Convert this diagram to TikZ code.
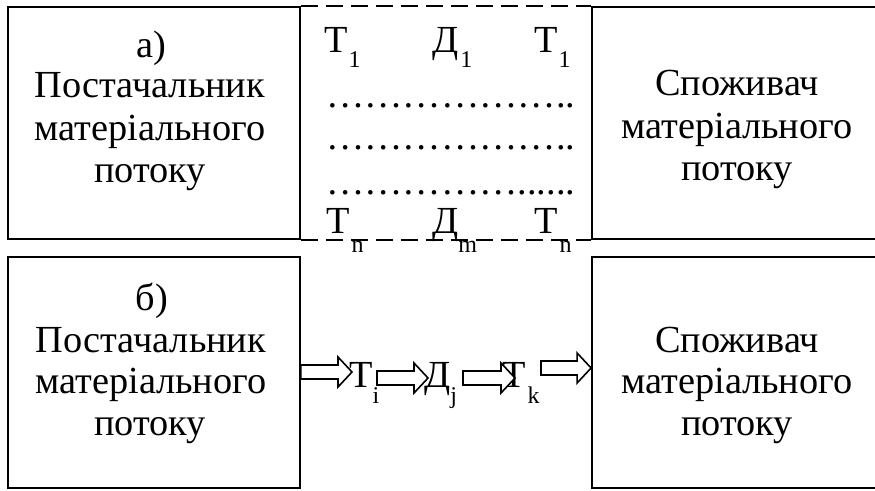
\documentclass[tikz,border=0pt]{standalone}
\usepackage{fontspec}
\setmainfont{Liberation Serif}
\usetikzlibrary{calc}

% big text and subscript sizes
\newcommand\bigtxt{\fontsize{38.3}{43}\selectfont}
\newcommand\subtxt{\fontsize{24}{24}\selectfont}
% letter with a lowered index: #1 letter, #2 kern, #3 drop, #4 index
\newcommand\idx[4]{#1\kern#2\raisebox{-#3}{\subtxt #4}}

\tikzset{
  box/.style={draw, line width=1.8pt, inner sep=0pt, minimum width=292pt, minimum height=232pt},
  line/.style={inner sep=0pt, anchor=base, font=\bigtxt},
  lbl/.style={inner sep=0pt, anchor=base west, font=\bigtxt},
  border/.style={line width=1.8pt, dash pattern=on 17pt off 8pt},
  blockar/.style={draw, fill=white, line width=1.6pt, line join=miter},
}

% outlined block arrow from #1 to #2 (tip), drawn at the height of #2
\newcommand\blockarrow[2]{%
  \draw[blockar] let \p1=(#1), \p2=(#2) in
    (\x1,{\y2+7pt}) -- ({\x2-14pt},{\y2+7pt}) -- ({\x2-14pt},{\y2+15pt})
    -- (\x2,\y2) -- ({\x2-14pt},{\y2-15pt}) -- ({\x2-14pt},{\y2-7pt})
    -- (\x1,{\y2-7pt}) -- cycle;}

\begin{document}
\begin{tikzpicture}[x=1pt, y=-1pt]
  \useasboundingbox (0,0) rectangle (875,490);
  \clip (0,0) rectangle (875,490);

  % ---- a) storage / transport set ----
  \node[box] (supA) at (154,123) {};
  \node[box, minimum width=290pt] (conA) at (737,123) {};
  \draw[border] (supA.north east) -- (conA.north west);
  \draw[border] (supA.south east) -- (conA.south west);

  \node[line] (supA0) at (151,57)  {а)};
  \node[line] (supA1) at (150,97)  {Постачальник};
  \node[line] (supA2) at (150,140) {матеріального};
  \node[line] (supA3) at (150,182) {потоку};

  \node[line] (conA1) at (737,95)  {Споживач};
  \node[line] (conA2) at (737,138) {матеріального};
  \node[line] (conA3) at (737,180) {потоку};

  \node[lbl] (tA1) at (324,52) {\idx{Т}{1pt}{15pt}{1}};
  \node[lbl] (dA1) at (432,52) {\idx{Д}{2pt}{15pt}{1}};
  \node[lbl] (tA2) at (534,52) {\idx{Т}{1pt}{15pt}{1}};

  \node[lbl] (dots1) at (326,107) {………………..};
  \node[lbl] (dots2) at (326,149) {………………..};
  \node[lbl] (dots3) at (326,194) {……………......};

  \node[lbl] (tAn) at (326,233) {\idx{Т}{2pt}{19pt}{n}};
  \node[lbl] (dAm) at (432,233) {\idx{Д}{0pt}{19pt}{m}};
  \node[lbl] (tAk) at (534,233) {\idx{Т}{2pt}{19pt}{n}};

  % ---- b) one chain of the flow ----
  \node[box, minimum height=231pt] (supB) at (154,372.5) {};
  \node[box, minimum width=290pt, minimum height=231pt] (conB) at (737,372.5) {};

  \node[line] (supB0) at (152,310) {б)};
  \node[line] (supB1) at (151,352) {Постачальник};
  \node[line] (supB2) at (151,393) {матеріального};
  \node[line] (supB3) at (150,435) {потоку};

  \node[line] (conB1) at (737,352) {Споживач};
  \node[line] (conB2) at (737,393) {матеріального};
  \node[line] (conB3) at (737,435) {потоку};

  \node[lbl] (tBi) at (349,387) {\idx{Т}{0pt}{16pt}{i}};
  \node[lbl] (dBj) at (424,387) {\idx{Д}{0pt}{16pt}{j}};
  \node[lbl] (tBk) at (502,387) {\idx{Т}{2pt}{16pt}{k}};

  \coordinate (f1) at (352,372);
  \coordinate (s2) at (377,378);
  \coordinate (f2) at (428,378);
  \coordinate (s3) at (463,378);
  \coordinate (f3) at (515,378);
  \coordinate (s4) at (541,368);
  \coordinate (f4) at (conB.west |- s4);

  \blockarrow{supB.east}{f1}
  \blockarrow{s2}{f2}
  \blockarrow{s3}{f3}
  \blockarrow{s4}{f4}
\end{tikzpicture}
\end{document}
